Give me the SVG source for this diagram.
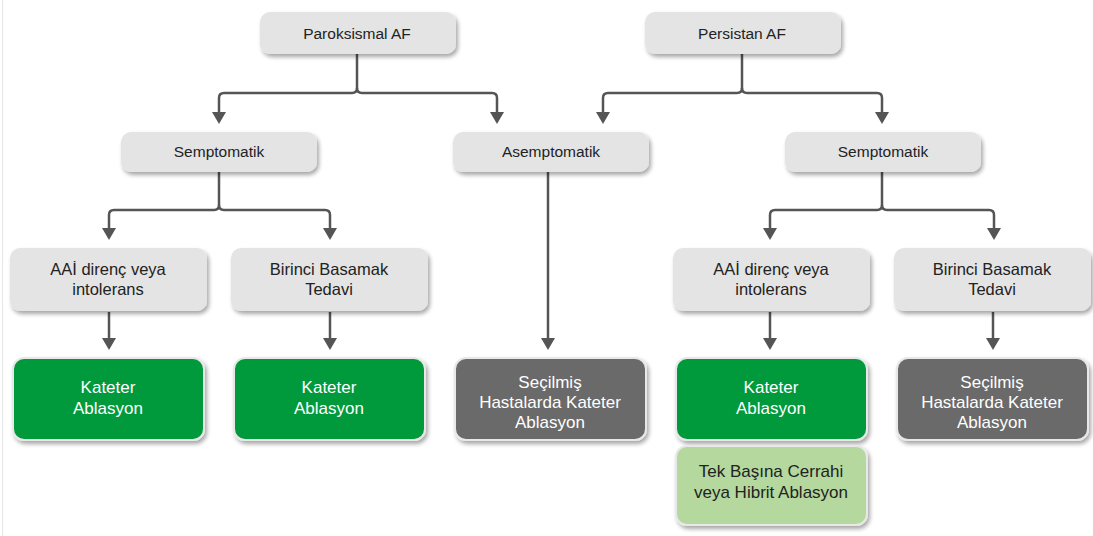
<svg xmlns="http://www.w3.org/2000/svg" width="1093" height="536" viewBox="0 0 1093 536">
<defs>
<filter id="sh" x="-10%" y="-10%" width="125%" height="135%">
<feGaussianBlur in="SourceAlpha" stdDeviation="2"/>
<feOffset dx="1.5" dy="2.5" result="o"/>
<feComponentTransfer><feFuncA type="linear" slope="0.35"/></feComponentTransfer>
<feMerge><feMergeNode/><feMergeNode in="SourceGraphic"/></feMerge>
</filter>
<style>
.g{fill:#e4e4e4;filter:url(#sh)}
.k{fill:#009a3e;stroke:#e8e8e8;stroke-width:2;filter:url(#sh)}
.d{fill:#6b6b6b;stroke:#e8e8e8;stroke-width:2;filter:url(#sh)}
.l{fill:#b4d89d;stroke:#e8e8e8;stroke-width:2;filter:url(#sh)}
.t{font-family:"Liberation Sans",Arial,sans-serif;font-size:15.5px;fill:#222;text-anchor:middle}
.t2{font-family:"Liberation Sans",Arial,sans-serif;font-size:16.5px;fill:#222;text-anchor:middle}
.w{font-family:"Liberation Sans",Arial,sans-serif;font-size:17px;fill:#fff;text-anchor:middle}
.tl{font-family:"Liberation Sans",Arial,sans-serif;font-size:17px;fill:#222;text-anchor:middle}
.c{fill:none;stroke:#555;stroke-width:2.5}
.a{fill:#555}
</style>
</defs>
<rect width="1093" height="536" fill="#fff"/>
<line x1="2.5" y1="0" x2="2.5" y2="536" stroke="#e6e6e6" stroke-width="1"/>
<g id="connectors">
<path class="c" d="M357 54 V88 Q357 93 352 93 H224 Q219 93 219 98 V114"/>
<path class="c" d="M357 88 Q357 93 362 93 H492 Q497 93 497 98 V114"/>
<path class="c" d="M742 54 V88 Q742 93 737 93 H608 Q603 93 603 98 V114"/>
<path class="c" d="M742 88 Q742 93 747 93 H877 Q882 93 882 98 V114"/>
<path class="c" d="M219 172 V205 Q219 210 214 210 H114 Q109 210 109 215 V230"/>
<path class="c" d="M219 205 Q219 210 224 210 H325 Q330 210 330 215 V230"/>
<path class="c" d="M882 172 V205 Q882 210 877 210 H775 Q770 210 770 215 V230"/>
<path class="c" d="M882 205 Q882 210 887 210 H989 Q994 210 994 215 V230"/>
<path class="c" d="M109 312 V340"/>
<path class="c" d="M330 312 V340"/>
<path class="c" d="M548 172 V340"/>
<path class="c" d="M770 312 V340"/>
<path class="c" d="M993 312 V340"/>
<polygon class="a" points="212,112 226,112 219,124"/>
<polygon class="a" points="490,112 504,112 497,124"/>
<polygon class="a" points="596,112 610,112 603,124"/>
<polygon class="a" points="875,112 889,112 882,124"/>
<polygon class="a" points="102,228 116,228 109,240"/>
<polygon class="a" points="323,228 337,228 330,240"/>
<polygon class="a" points="763,228 777,228 770,240"/>
<polygon class="a" points="987,228 1001,228 994,240"/>
<polygon class="a" points="102,338 116,338 109,350"/>
<polygon class="a" points="323,338 337,338 330,350"/>
<polygon class="a" points="541,338 555,338 548,350"/>
<polygon class="a" points="763,338 777,338 770,350"/>
<polygon class="a" points="986,338 1000,338 993,350"/>
</g>
<g id="paroksismal"><rect class="g" x="260" y="12" width="196" height="42" rx="10"/><text class="t" x="357" y="39">Paroksismal AF</text></g>
<g id="persistan"><rect class="g" x="645" y="12" width="196" height="42" rx="10"/><text class="t" x="742" y="39">Persistan AF</text></g>
<g id="semp-left"><rect class="g" x="121" y="132" width="196" height="40" rx="10"/><text class="t" x="219" y="157">Semptomatik</text></g>
<g id="asemp"><rect class="g" x="453" y="132" width="196" height="40" rx="10"/><text class="t" x="551" y="157">Asemptomatik</text></g>
<g id="semp-right"><rect class="g" x="785" y="132" width="196" height="40" rx="10"/><text class="t" x="883" y="157">Semptomatik</text></g>
<g id="aai-left"><rect class="g" x="10" y="248" width="197" height="63" rx="10"/><text class="t2" x="108" y="275">AAİ direnç veya</text><text class="t2" x="108" y="295">intolerans</text></g>
<g id="birinci-left"><rect class="g" x="231" y="248" width="197" height="63" rx="10"/><text class="t2" x="329" y="275">Birinci Basamak</text><text class="t2" x="329" y="295">Tedavi</text></g>
<g id="aai-right"><rect class="g" x="673" y="248" width="197" height="63" rx="10"/><text class="t2" x="771" y="275">AAİ direnç veya</text><text class="t2" x="771" y="295">intolerans</text></g>
<g id="birinci-right"><rect class="g" x="894" y="248" width="197" height="63" rx="10"/><text class="t2" x="992" y="275">Birinci Basamak</text><text class="t2" x="992" y="295">Tedavi</text></g>
<g id="kateter-1"><rect class="k" x="13" y="358" width="191" height="82" rx="11"/><text class="w" x="108" y="393">Kateter</text><text class="w" x="108" y="414">Ablasyon</text></g>
<g id="kateter-2"><rect class="k" x="234" y="358" width="191" height="82" rx="11"/><text class="w" x="329" y="393">Kateter</text><text class="w" x="329" y="414">Ablasyon</text></g>
<g id="secilmis-1"><rect class="d" x="455" y="358" width="191" height="82" rx="11"/><text class="w" x="550" y="388">Seçilmiş</text><text class="w" x="550" y="408">Hastalarda Kateter</text><text class="w" x="550" y="428">Ablasyon</text></g>
<g id="kateter-3"><rect class="k" x="676" y="358" width="191" height="82" rx="11"/><text class="w" x="771" y="393">Kateter</text><text class="w" x="771" y="414">Ablasyon</text></g>
<g id="tek-basina"><rect class="l" x="676" y="446" width="191" height="79" rx="11"/><text class="tl" x="771" y="477">Tek Başına Cerrahi</text><text class="tl" x="771" y="498">veya Hibrit Ablasyon</text></g>
<g id="secilmis-2"><rect class="d" x="897" y="358" width="191" height="82" rx="11"/><text class="w" x="992" y="388">Seçilmiş</text><text class="w" x="992" y="408">Hastalarda Kateter</text><text class="w" x="992" y="428">Ablasyon</text></g>
</svg>
